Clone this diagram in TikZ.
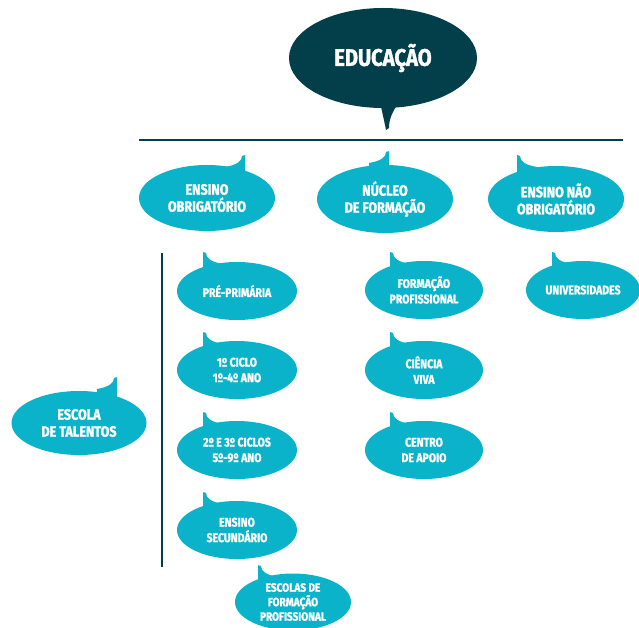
\documentclass[tikz,border=0pt]{standalone}
\usepackage{fontspec}
\setmainfont{Fira Sans}
\newfontfamily\condfont{Fira Sans}[FakeStretch=0.84, BoldFeatures={FakeBold=1.5}]
\usetikzlibrary{shapes.geometric,calc}
\definecolor{bubcyan}{HTML}{0BB3CA}
\definecolor{bubdark}{HTML}{033F4A}
\tikzset{
  bub/.style={ellipse, fill=bubcyan, text=white, inner sep=0pt, align=center, font=\condfont\bfseries\fontsize{12.5}{15.5}\selectfont},
  bubsmall/.style={bub, minimum width=118pt, minimum height=58pt},
  bubmed/.style={bub, minimum width=136pt, minimum height=66pt, font=\condfont\bfseries\fontsize{15}{17}\selectfont},
  bubbig/.style={ellipse, fill=bubdark, text=white, inner sep=0pt, minimum width=188pt, minimum height=100pt, font=\condfont\bfseries\fontsize{24}{28}\selectfont},
  rule/.style={draw=bubdark, line width=2pt},
}
\newcommand\tailL[2]{\fill[#2] ($(#1)$) -- ++(0,22) -- ++(20,0) -- ++(0,-10) .. controls ++(-12,-2) and ++(0,5) .. ++(-17,-11) -- cycle;}
\newcommand\tailR[2]{\fill[#2] ($(#1)$) -- ++(0,22) -- ++(-20,0) -- ++(0,-10) .. controls ++(12,-2) and ++(0,5) .. ++(17,-11) -- cycle;}
\begin{document}
\begin{tikzpicture}[x=1pt,y=-1pt]
\useasboundingbox (0,0) rectangle (639,628);
% top bubble tail
\coordinate (edutip) at (386,130);
\fill[bubdark] (edutip) .. controls (384,120) .. (379,98) -- (402,98) .. controls (393,110) and (389,118) .. (389,128) -- cycle;
\node[bubbig] (edu) at (383,58) {EDUCAÇÃO};
% rules
\coordinate (hl) at (139,140.5);
\coordinate (hr) at (623,140.5);
\draw[rule] (hl) -- (hr);
\coordinate (vt) at (162,253);
\coordinate (vb) at (162,567);
\draw[rule] (vt) -- (vb);
% tails
\coordinate (t-eo) at (245,155);
\coordinate (t-nf) at (389,151);
\coordinate (t-eno) at (517,155);
\coordinate (t-pp) at (203,252);
\coordinate (t-c1) at (203,332);
\coordinate (t-c23) at (203,412);
\coordinate (t-es) at (203,492);
\coordinate (t-efp) at (258,565);
\coordinate (t-fp) at (390,252);
\coordinate (t-cv) at (390,332);
\coordinate (t-ca) at (390,412);
\coordinate (t-uni) at (552,252);
\coordinate (t-et) at (117,377);
\tailR{t-eo}{bubcyan}
\tailR{t-nf}{bubcyan}
\tailL{t-eno}{bubcyan}
\tailL{t-pp}{bubcyan}
\tailL{t-c1}{bubcyan}
\tailL{t-c23}{bubcyan}
\tailL{t-es}{bubcyan}
\tailL{t-efp}{bubcyan}
\tailL{t-fp}{bubcyan}
\tailL{t-cv}{bubcyan}
\tailL{t-ca}{bubcyan}
\tailL{t-uni}{bubcyan}
\tailR{t-et}{bubcyan}
% bubbles
\node[bubmed] (eo) at (207,198) {ENSINO\\OBRIGATÓRIO};
\node[bubmed, minimum height=68pt] (nf) at (385,199) {NÚCLEO\\DE FORMAÇÃO};
\node[bubmed] (eno) at (556,199) {ENSINO NÃO\\OBRIGATÓRIO};
\node[bubsmall, minimum width=120pt] (pp) at (237,291) {PRÉ-PRIMÁRIA};
\node[bubsmall, minimum width=120pt] (c1) at (237,370) {1º CICLO\\1º-4º ANO};
\node[bubsmall, minimum width=120pt] (c23) at (237,450) {2º E 3º CICLOS\\5º-9º ANO};
\node[bubsmall, minimum width=120pt] (es) at (237,530) {ENSINO\\SECUNDÁRIO};
\node[bubsmall, minimum width=116pt, minimum height=57pt, font=\condfont\bfseries\fontsize{12}{14.5}\selectfont] (efp) at (293,602) {ESCOLAS DE\\FORMAÇÃO\\PROFISSIONAL};
\node[bubsmall] (fp) at (424,290) {FORMAÇÃO\\PROFISSIONAL};
\node[bubsmall] (cv) at (424,370) {CIÊNCIA\\VIVA};
\node[bubsmall] (ca) at (424,450) {CENTRO\\DE APOIO};
\node[bubsmall, minimum width=114pt] (uni) at (583,290) {UNIVERSIDADES};
\node[bubmed, minimum width=135pt, minimum height=64pt] (et) at (79,423) {ESCOLA\\DE TALENTOS};
\end{tikzpicture}
\end{document}
